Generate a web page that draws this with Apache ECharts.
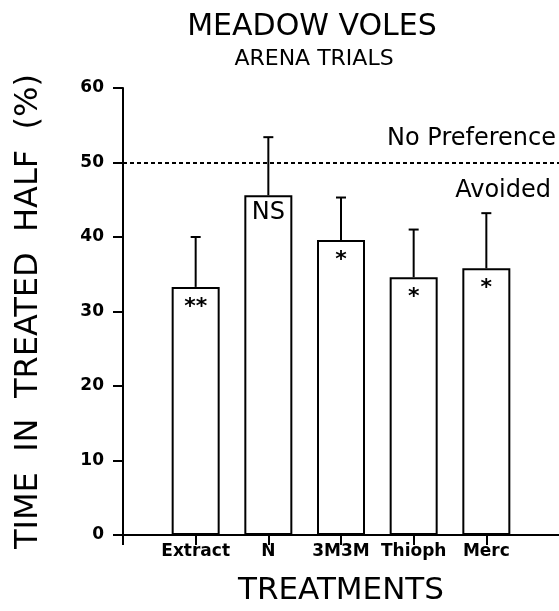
<!DOCTYPE html>
<html>
<head>
<meta charset="utf-8">
<script src="https://cdn.jsdelivr.net/npm/echarts@6/dist/echarts.min.js"></script>
<style>
html,body{margin:0;padding:0;background:#fff;}
#chart{width:559px;height:611px;}
</style>
</head>
<body>
<div id="chart"></div>
<script>
var categories = ['Extract', 'N', '3M3M', 'Thioph', 'Merc'];
var meanValues = [33.3, 45.6, 39.6, 34.6, 35.8];
var errorTops = [40.0, 53.4, 45.3, 41.0, 43.2];
var marks = ['**', 'NS', '*', '*', '*'];
var refValue = 50;

var chart = echarts.init(document.getElementById('chart'), null, {renderer: 'canvas'});

var barData = categories.map(function (c, i) { return [i + 1, meanValues[i]]; });
var errData = categories.map(function (c, i) { return [i + 1, meanValues[i], errorTops[i]]; });
var markData = categories.map(function (c, i) { return [i + 1, meanValues[i], i]; });
var tickPositions = [0].concat(categories.map(function (c, i) { return i + 1; }));

var option = {
  backgroundColor: '#fff',
  animation: false,
  grid: {left: 123, width: 439, top: 88, bottom: 73, containLabel: false},
  graphic: [
    {type: 'text', x: 312, y: 27, style: {text: 'MEADOW VOLES', font: 'normal 30px "DejaVu Sans"', fill: '#000', textAlign: 'center', textVerticalAlign: 'middle'}},
    {type: 'text', x: 314, y: 59, style: {text: 'ARENA TRIALS', font: 'normal 22px "DejaVu Sans"', fill: '#000', textAlign: 'center', textVerticalAlign: 'middle'}},
    {type: 'text', x: 556, y: 139, style: {text: 'No Preference', font: 'normal 24px "DejaVu Sans"', fill: '#000', textAlign: 'right', textVerticalAlign: 'middle'}},
    {type: 'text', x: 551, y: 191, style: {text: 'Avoided', font: 'normal 24px "DejaVu Sans"', fill: '#000', textAlign: 'right', textVerticalAlign: 'middle'}}
  ],
  xAxis: {
    type: 'value', min: 0, max: 6, interval: 1,
    name: 'TREATMENTS', nameLocation: 'middle', nameGap: 40,
    nameTextStyle: {fontFamily: 'DejaVu Sans', fontSize: 31, color: '#000'},
    axisLine: {show: true, onZero: false, lineStyle: {color: '#000', width: 2}},
    axisTick: {show: true, length: 10, customValues: tickPositions, lineStyle: {color: '#000', width: 2}},
    axisLabel: {
      margin: 8, color: '#000', fontFamily: 'DejaVu Sans', fontWeight: 'bold', fontSize: 17,
      customValues: tickPositions,
      formatter: function (v) { return categories[v - 1] || ''; }
    },
    splitLine: {show: false}
  },
  yAxis: {
    type: 'value', min: 0, max: 60, interval: 10,
    name: 'TIME  IN  TREATED  HALF  (%)', nameLocation: 'middle', nameGap: 78, nameRotate: 90,
    nameTextStyle: {fontFamily: 'DejaVu Sans', fontSize: 32, color: '#000'},
    axisLine: {show: true, lineStyle: {color: '#000', width: 2}},
    axisTick: {show: true, length: 10, lineStyle: {color: '#000', width: 2}},
    axisLabel: {margin: 19, color: '#000', fontFamily: 'DejaVu Sans', fontWeight: 'bold', fontSize: 17},
    splitLine: {show: false}
  },
  series: [
    {
      type: 'bar', data: barData, barWidth: 48, z: 3,
      itemStyle: {color: '#fff', borderColor: '#000', borderWidth: 2},
      markLine: {
        silent: true, symbol: 'none', label: {show: false},
        lineStyle: {color: '#000', type: [4, 3], width: 2},
        data: [{yAxis: refValue}]
      }
    },
    {
      type: 'custom', data: errData, z: 4,
      renderItem: function (params, api) {
        var p0 = api.coord([api.value(0), api.value(1)]);
        var p1 = api.coord([api.value(0), api.value(2)]);
        return {type: 'group', children: [
          {type: 'line', shape: {x1: p0[0], y1: p0[1], x2: p1[0], y2: p1[1]}, style: {stroke: '#000', lineWidth: 2}},
          {type: 'line', shape: {x1: p1[0] - 5, y1: p1[1], x2: p1[0] + 5, y2: p1[1]}, style: {stroke: '#000', lineWidth: 2}}
        ]};
      }
    },
    {
      type: 'custom', data: markData, z: 5,
      renderItem: function (params, api) {
        var i = api.value(2);
        var p = api.coord([api.value(0), api.value(1)]);
        var m = marks[i];
        if (m === 'NS') {
          return {type: 'text', x: p[0], y: p[1] + 17, style: {text: m, font: 'normal 24px "DejaVu Sans"', fill: '#000', textAlign: 'center', textVerticalAlign: 'middle'}};
        }
        return {type: 'text', x: p[0], y: p[1] + 20, style: {text: m, font: 'bold 22px "DejaVu Sans"', fill: '#000', textAlign: 'center', textVerticalAlign: 'middle'}};
      }
    }
  ]
};
chart.setOption(option);
</script>
</body>
</html>
